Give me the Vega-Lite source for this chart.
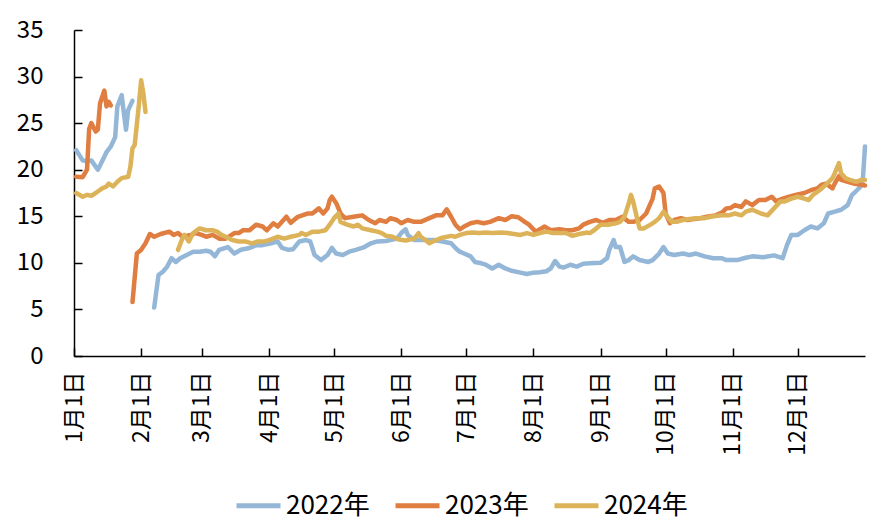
{
"$schema": "https://vega.github.io/schema/vega-lite/v6.json",
"width": 791, "height": 326,
"autosize": {"type": "none"},
"padding": {"left": 74, "top": 30, "right": 22, "bottom": 175},
"config": {"view": {"stroke": null}, "font": "Noto Sans CJK SC",
  "axis": {"grid": false, "domainColor": "#000", "tickColor": "#000", "labelColor": "#000", "labelFontSize": 23, "domainWidth": 1.5, "tickWidth": 1.5}},
"datasets": {
"b1": [{"day":1,"value":22.1},{"day":4,"value":21.0},{"day":6,"value":20.9},{"day":8,"value":21.0},{"day":11,"value":20.0},{"day":14,"value":21.4},{"day":15,"value":21.9},{"day":17,"value":22.5},{"day":19,"value":23.5},{"day":20,"value":26.8},{"day":22,"value":28.0},{"day":23,"value":26.1},{"day":24,"value":24.3},{"day":25,"value":26.4},{"day":27,"value":27.4}],
"b2": [{"day":37,"value":5.2},{"day":39,"value":8.7},{"day":41,"value":9.05},{"day":43,"value":9.6},{"day":45,"value":10.5},{"day":47,"value":10.1},{"day":49,"value":10.5},{"day":52,"value":10.85},{"day":55,"value":11.2},{"day":58,"value":11.2},{"day":61,"value":11.3},{"day":63,"value":11.2},{"day":65,"value":10.7},{"day":67,"value":11.4},{"day":71,"value":11.7},{"day":74,"value":11.0},{"day":77,"value":11.4},{"day":81,"value":11.6},{"day":84,"value":11.9},{"day":87,"value":11.9},{"day":91,"value":12.1},{"day":94,"value":12.3},{"day":96,"value":11.6},{"day":99,"value":11.4},{"day":101,"value":11.45},{"day":104,"value":12.3},{"day":107,"value":12.45},{"day":109,"value":12.3},{"day":111,"value":10.85},{"day":114,"value":10.3},{"day":117,"value":10.85},{"day":119,"value":11.6},{"day":121,"value":11.0},{"day":124,"value":10.85},{"day":127,"value":11.2},{"day":130,"value":11.4},{"day":134,"value":11.7},{"day":137,"value":12.1},{"day":140,"value":12.3},{"day":144,"value":12.35},{"day":149,"value":12.6},{"day":151,"value":13.2},{"day":153,"value":13.6},{"day":154,"value":13.0},{"day":157,"value":12.45},{"day":161,"value":12.45},{"day":166,"value":12.45},{"day":170,"value":12.3},{"day":174,"value":12.1},{"day":176,"value":11.6},{"day":178,"value":11.2},{"day":180,"value":11.0},{"day":183,"value":10.7},{"day":185,"value":10.1},{"day":188,"value":9.95},{"day":190,"value":9.8},{"day":193,"value":9.4},{"day":196,"value":9.8},{"day":199,"value":9.4},{"day":202,"value":9.15},{"day":206,"value":8.95},{"day":209,"value":8.8},{"day":212,"value":8.95},{"day":215,"value":9.0},{"day":218,"value":9.1},{"day":220,"value":9.4},{"day":222,"value":10.2},{"day":224,"value":9.6},{"day":226,"value":9.5},{"day":229,"value":9.8},{"day":232,"value":9.6},{"day":235,"value":9.9},{"day":238,"value":9.95},{"day":243,"value":10.0},{"day":246,"value":10.5},{"day":247,"value":11.4},{"day":249,"value":12.45},{"day":250,"value":11.7},{"day":252,"value":11.7},{"day":254,"value":10.1},{"day":256,"value":10.3},{"day":258,"value":10.7},{"day":261,"value":10.3},{"day":265,"value":10.1},{"day":267,"value":10.3},{"day":270,"value":11.0},{"day":272,"value":11.7},{"day":274,"value":11.0},{"day":277,"value":10.85},{"day":281,"value":11.0},{"day":284,"value":10.85},{"day":287,"value":11.0},{"day":291,"value":10.7},{"day":295,"value":10.5},{"day":299,"value":10.5},{"day":301,"value":10.3},{"day":306,"value":10.3},{"day":310,"value":10.55},{"day":313,"value":10.7},{"day":318,"value":10.6},{"day":323,"value":10.8},{"day":327,"value":10.5},{"day":329,"value":11.9},{"day":331,"value":13.0},{"day":334,"value":13.0},{"day":337,"value":13.5},{"day":340,"value":13.9},{"day":343,"value":13.7},{"day":346,"value":14.25},{"day":348,"value":15.3},{"day":351,"value":15.5},{"day":354,"value":15.7},{"day":357,"value":16.2},{"day":359,"value":17.3},{"day":360,"value":17.5},{"day":363,"value":18.2},{"day":364,"value":18.9},{"day":365,"value":22.5}],
"o1": [{"day":1,"value":19.25},{"day":4,"value":19.2},{"day":6,"value":20.0},{"day":7,"value":24.4},{"day":8,"value":25.0},{"day":10,"value":24.1},{"day":11,"value":24.3},{"day":12,"value":27.1},{"day":14,"value":28.5},{"day":15,"value":26.8},{"day":16,"value":27.3},{"day":17,"value":26.9}],
"o2": [{"day":27,"value":5.8},{"day":29,"value":11.0},{"day":31,"value":11.4},{"day":33,"value":12.1},{"day":35,"value":13.1},{"day":37,"value":12.8},{"day":40,"value":13.1},{"day":44,"value":13.35},{"day":46,"value":13.0},{"day":48,"value":13.2},{"day":50,"value":12.8},{"day":54,"value":13.0},{"day":56,"value":13.2},{"day":59,"value":13.0},{"day":61,"value":12.8},{"day":64,"value":13.0},{"day":67,"value":12.6},{"day":70,"value":12.6},{"day":74,"value":13.2},{"day":76,"value":13.2},{"day":78,"value":13.5},{"day":81,"value":13.5},{"day":84,"value":14.1},{"day":87,"value":13.9},{"day":89,"value":13.5},{"day":92,"value":14.25},{"day":94,"value":13.9},{"day":98,"value":14.95},{"day":100,"value":14.3},{"day":103,"value":14.9},{"day":108,"value":15.3},{"day":110,"value":15.3},{"day":113,"value":15.85},{"day":115,"value":15.3},{"day":117,"value":15.85},{"day":118,"value":16.75},{"day":119,"value":17.1},{"day":121,"value":16.4},{"day":123,"value":15.3},{"day":125,"value":14.8},{"day":129,"value":14.95},{"day":133,"value":15.1},{"day":136,"value":14.6},{"day":139,"value":14.25},{"day":141,"value":14.6},{"day":144,"value":14.4},{"day":146,"value":14.8},{"day":149,"value":14.6},{"day":151,"value":14.25},{"day":154,"value":14.6},{"day":157,"value":14.4},{"day":160,"value":14.4},{"day":164,"value":14.8},{"day":167,"value":15.1},{"day":170,"value":15.1},{"day":172,"value":15.75},{"day":174,"value":14.95},{"day":176,"value":14.1},{"day":178,"value":13.6},{"day":180,"value":13.9},{"day":183,"value":14.25},{"day":186,"value":14.4},{"day":189,"value":14.25},{"day":192,"value":14.4},{"day":196,"value":14.8},{"day":199,"value":14.6},{"day":202,"value":15.0},{"day":205,"value":14.9},{"day":208,"value":14.4},{"day":210,"value":14.1},{"day":213,"value":13.35},{"day":215,"value":13.6},{"day":217,"value":13.9},{"day":220,"value":13.5},{"day":224,"value":13.6},{"day":227,"value":13.5},{"day":230,"value":13.5},{"day":233,"value":13.7},{"day":235,"value":14.1},{"day":238,"value":14.4},{"day":241,"value":14.6},{"day":244,"value":14.3},{"day":247,"value":14.6},{"day":250,"value":14.6},{"day":253,"value":14.95},{"day":256,"value":14.4},{"day":258,"value":14.4},{"day":261,"value":14.6},{"day":264,"value":15.3},{"day":267,"value":16.9},{"day":268,"value":18.0},{"day":270,"value":18.2},{"day":272,"value":17.5},{"day":273,"value":15.3},{"day":275,"value":14.25},{"day":277,"value":14.6},{"day":280,"value":14.8},{"day":283,"value":14.6},{"day":286,"value":14.7},{"day":289,"value":14.8},{"day":292,"value":14.95},{"day":296,"value":15.1},{"day":299,"value":15.4},{"day":301,"value":15.85},{"day":303,"value":15.9},{"day":305,"value":16.2},{"day":308,"value":16.0},{"day":310,"value":16.6},{"day":313,"value":16.2},{"day":316,"value":16.75},{"day":319,"value":16.75},{"day":322,"value":17.1},{"day":324,"value":16.6},{"day":327,"value":16.9},{"day":330,"value":17.1},{"day":333,"value":17.3},{"day":337,"value":17.5},{"day":340,"value":17.8},{"day":343,"value":18.0},{"day":345,"value":18.4},{"day":347,"value":18.5},{"day":350,"value":18.0},{"day":351,"value":18.5},{"day":353,"value":19.3},{"day":354,"value":18.9},{"day":357,"value":18.7},{"day":360,"value":18.5},{"day":363,"value":18.4},{"day":365,"value":18.3}],
"g1": [{"day":1,"value":17.5},{"day":4,"value":17.1},{"day":6,"value":17.3},{"day":8,"value":17.2},{"day":10,"value":17.5},{"day":13,"value":18.0},{"day":15,"value":18.2},{"day":16,"value":18.5},{"day":18,"value":18.2},{"day":20,"value":18.7},{"day":22,"value":19.1},{"day":25,"value":19.25},{"day":26,"value":20.3},{"day":27,"value":22.3},{"day":28,"value":22.65},{"day":30,"value":27.1},{"day":31,"value":29.6},{"day":32,"value":28.2},{"day":33,"value":26.2}],
"g2": [{"day":48,"value":11.4},{"day":50,"value":12.6},{"day":51,"value":13.0},{"day":53,"value":12.3},{"day":55,"value":13.2},{"day":58,"value":13.7},{"day":61,"value":13.5},{"day":64,"value":13.5},{"day":66,"value":13.35},{"day":68,"value":13.0},{"day":70,"value":12.8},{"day":73,"value":12.45},{"day":76,"value":12.3},{"day":79,"value":12.3},{"day":82,"value":12.1},{"day":85,"value":12.3},{"day":88,"value":12.3},{"day":90,"value":12.45},{"day":94,"value":12.8},{"day":97,"value":12.6},{"day":100,"value":12.8},{"day":104,"value":13.0},{"day":105,"value":13.2},{"day":107,"value":13.0},{"day":110,"value":13.35},{"day":113,"value":13.35},{"day":116,"value":13.5},{"day":118,"value":14.1},{"day":120,"value":14.8},{"day":122,"value":15.3},{"day":123,"value":14.4},{"day":126,"value":14.1},{"day":129,"value":13.9},{"day":131,"value":14.1},{"day":133,"value":13.7},{"day":137,"value":13.5},{"day":140,"value":13.35},{"day":142,"value":13.2},{"day":144,"value":12.9},{"day":147,"value":12.8},{"day":150,"value":12.5},{"day":153,"value":12.4},{"day":157,"value":12.6},{"day":159,"value":13.2},{"day":160,"value":12.8},{"day":163,"value":12.3},{"day":164,"value":12.1},{"day":167,"value":12.45},{"day":170,"value":12.7},{"day":174,"value":12.9},{"day":176,"value":12.8},{"day":178,"value":13.0},{"day":181,"value":13.2},{"day":184,"value":13.25},{"day":187,"value":13.2},{"day":190,"value":13.25},{"day":193,"value":13.2},{"day":197,"value":13.25},{"day":200,"value":13.2},{"day":203,"value":13.1},{"day":206,"value":13.0},{"day":209,"value":13.2},{"day":212,"value":13.0},{"day":215,"value":13.2},{"day":218,"value":13.35},{"day":221,"value":13.2},{"day":224,"value":13.2},{"day":227,"value":13.2},{"day":230,"value":12.9},{"day":233,"value":13.1},{"day":237,"value":13.25},{"day":238,"value":13.2},{"day":240,"value":13.5},{"day":243,"value":14.1},{"day":247,"value":14.1},{"day":250,"value":14.25},{"day":252,"value":14.4},{"day":254,"value":14.95},{"day":256,"value":16.4},{"day":257,"value":17.3},{"day":258,"value":16.6},{"day":260,"value":14.6},{"day":261,"value":13.7},{"day":263,"value":13.7},{"day":266,"value":14.1},{"day":268,"value":14.4},{"day":270,"value":14.8},{"day":272,"value":15.5},{"day":274,"value":14.9},{"day":276,"value":14.4},{"day":278,"value":14.4},{"day":281,"value":14.6},{"day":284,"value":14.7},{"day":287,"value":14.8},{"day":291,"value":14.8},{"day":295,"value":15.0},{"day":299,"value":15.1},{"day":302,"value":15.1},{"day":305,"value":15.3},{"day":308,"value":15.1},{"day":310,"value":15.5},{"day":313,"value":15.7},{"day":317,"value":15.3},{"day":320,"value":15.1},{"day":323,"value":15.85},{"day":326,"value":16.6},{"day":328,"value":16.6},{"day":331,"value":16.9},{"day":334,"value":17.1},{"day":337,"value":16.9},{"day":339,"value":16.75},{"day":341,"value":17.3},{"day":344,"value":17.8},{"day":347,"value":18.4},{"day":350,"value":19.1},{"day":351,"value":19.6},{"day":353,"value":20.7},{"day":354,"value":19.6},{"day":356,"value":19.1},{"day":358,"value":18.9},{"day":361,"value":18.7},{"day":363,"value":18.9},{"day":365,"value":18.9}]
},
"encoding": {
  "x": {"field": "day", "type": "quantitative", "scale": {"domain": [0, 365], "nice": false, "zero": false},
    "axis": {"title": null, "values": [0, 31, 59, 90, 120, 151, 181, 212, 243, 273, 304, 334],
      "labelExpr": "(indexof([0,31,59,90,120,151,181,212,243,273,304,334], datum.value) + 1) + '月1日'",
      "labelAngle": -90, "tickSize": -8, "labelPadding": 23, "labelFontSize": 23}},
  "y": {"field": "value", "type": "quantitative", "scale": {"domain": [0, 35], "nice": false},
    "axis": {"title": null, "values": [0, 5, 10, 15, 20, 25, 30, 35], "tickSize": -8, "labelPadding": 39, "labelFontSize": 24}},
  "color": {"scale": {"domain": ["2022年", "2023年", "2024年"], "range": ["#94B7D8", "#E07D40", "#DDB35A"]},
    "legend": {"title": null, "orient": "none", "legendX": 160, "legendY": 451, "direction": "horizontal",
      "symbolType": "stroke", "symbolSize": 1936, "symbolStrokeWidth": 5, "labelFontSize": 26, "labelOffset": 3,
      "columnPadding": 15, "labelColor": "#000"}}
},
"layer": [
  {"data": {"name": "b1"}, "mark": {"type": "line", "strokeWidth": 4.5, "strokeJoin": "round", "strokeCap": "round"}, "encoding": {"color": {"datum": "2022年"}}},
  {"data": {"name": "b2"}, "mark": {"type": "line", "strokeWidth": 4.5, "strokeJoin": "round", "strokeCap": "round"}, "encoding": {"color": {"datum": "2022年"}}},
  {"data": {"name": "o1"}, "mark": {"type": "line", "strokeWidth": 4.5, "strokeJoin": "round", "strokeCap": "round"}, "encoding": {"color": {"datum": "2023年"}}},
  {"data": {"name": "o2"}, "mark": {"type": "line", "strokeWidth": 4.5, "strokeJoin": "round", "strokeCap": "round"}, "encoding": {"color": {"datum": "2023年"}}},
  {"data": {"name": "g1"}, "mark": {"type": "line", "strokeWidth": 4.5, "strokeJoin": "round", "strokeCap": "round"}, "encoding": {"color": {"datum": "2024年"}}},
  {"data": {"name": "g2"}, "mark": {"type": "line", "strokeWidth": 4.5, "strokeJoin": "round", "strokeCap": "round"}, "encoding": {"color": {"datum": "2024年"}}}
]
}
